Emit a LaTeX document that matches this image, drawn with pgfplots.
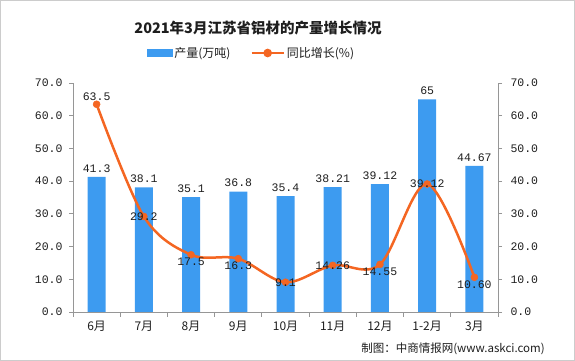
\documentclass[border=0pt]{standalone}
\usepackage{fontspec}
\setmainfont{Noto Sans CJK SC}
\newfontfamily\monofont{Liberation Mono}
\usepackage{pgfplots}
\pgfplotsset{compat=1.18}
\usepackage{pgfplotstable}
\definecolor{barblue}{RGB}{61,155,240}
\definecolor{lineorange}{RGB}{244,102,34}
\definecolor{axgray}{RGB}{150,150,150}
\definecolor{txt}{RGB}{30,30,30}

\pgfplotstableread{
x y lab
0 41.3 41.3
1 38.1 38.1
2 35.1 35.1
3 36.8 36.8
4 35.4 35.4
5 38.21 38.21
6 39.12 39.12
7 65 65
8 44.67 44.67
}\bardata

\pgfplotstableread{
x y lab
0 63.5 63.5
1 29.2 29.2
2 17.5 17.5
3 16.3 16.3
4 9.1 9.1
5 14.26 14.26
6 14.55 14.55
7 39.12 39.12
8 10.60 10.60
}\linedata

\pgfplotsset{
  common/.style={
    at={(73pt,49pt)}, anchor=south west, scale only axis,
    width=425pt, height=229pt,
    xmin=-0.5, xmax=8.5, ymin=0, ymax=70,
    axis line style={draw=axgray, line width=0.8pt, -},
    ytick={0,10,...,70},
    tick align=outside,
    major tick length=4pt,
    tick style={draw=axgray, line width=0.8pt},
    /pgf/number format/assume math mode=true,
    /pgf/number format/.cd, fixed, fixed zerofill, precision=1, /pgfplots/.cd,
    yticklabel style={font=\monofont\fontsize{11.5}{12}\selectfont, text=txt},
  },
  lbl/.style={draw=none, mark=none, forget plot, nodes near coords, point meta=explicit symbolic,
    every node near coord/.append style={anchor=#1, font=\monofont\fontsize{11.5}{12}\selectfont, text=txt}},
}

\begin{document}
\begin{tikzpicture}
\path[use as bounding box] (0pt,0pt) rectangle (575pt,361pt);
\draw[gray!40, line width=1pt] (0.5pt,0.5pt) rectangle (574.5pt,360.5pt);

\begin{axis}[common,
  axis x line*=bottom, axis y line*=left,
  xtick={0,...,8},
  xticklabels={6月,7月,8月,9月,10月,11月,12月,1-2月,3月},
  xticklabel style={font=\fontsize{12}{12}\selectfont, text=txt, yshift=-2pt},
  major x tick style={draw=none},
  minor xtick={-0.5,0.5,...,8.5},
  minor tick length=5pt,
  minor x tick style={draw=axgray, line width=0.8pt},
  yticklabel style={xshift=-3pt},
]
\addplot[ybar, bar width=18pt, fill=barblue, draw=none,
  nodes near coords, point meta=explicit symbolic,
  every node near coord/.append style={font=\monofont\fontsize{11.5}{12}\selectfont, text=txt, yshift=1pt}]
  table[x=x, y=y, meta=lab]{\bardata};
\end{axis}

\begin{axis}[common,
  axis y line*=right, axis x line=none,
  yticklabel style={xshift=5pt},
  legend style={at={(0.42,1.131)}, anchor=center, draw=none, fill=none,
    font=\fontsize{12}{12}\selectfont, text=txt, legend columns=2,
    /tikz/every even column/.append style={column sep=18pt}},
  legend cell align=left,
]
\addlegendimage{legend image code/.code={\fill[barblue] (0pt,-3.5pt) rectangle (25pt,3.5pt);}}
\addlegendentry{产量(万吨)}
\addplot[lineorange, line width=2.5pt, smooth, tension=0.55,
  mark=*, mark size=3.5pt, mark options={fill=lineorange, draw=lineorange, line width=0.5pt},
  legend image code/.code={\draw[lineorange, line width=2.5pt] (0pt,0pt) -- (32pt,0pt); \fill[lineorange] (16pt,0pt) circle (3pt);}]
  table[x=x, y=y]{\linedata};
\addlegendentry{同比增长(\%)}
\addplot[lbl=south] coordinates {(0,63.5) [63.5]};
\addplot[lbl=center] coordinates {(1,29.2) [29.2] (4,9.1) [9.1] (5,14.26) [14.26] (7,39.12) [39.12]};
\addplot[lbl=north] coordinates {(2,17.5) [17.5] (3,16.3) [16.3] (6,14.55) [14.55] (8,10.60) [10.60]};
\end{axis}

\node[font=\bfseries\fontsize{14.5}{15}\selectfont, text=txt] at (258pt,333pt) {2021年3月江苏省铝材的产量增长情况};
\node[font=\fontsize{11.5}{12}\selectfont, text=txt] at (453pt,12pt) {制图：中商情报网(www.askci.com)};
\end{tikzpicture}
\end{document}
